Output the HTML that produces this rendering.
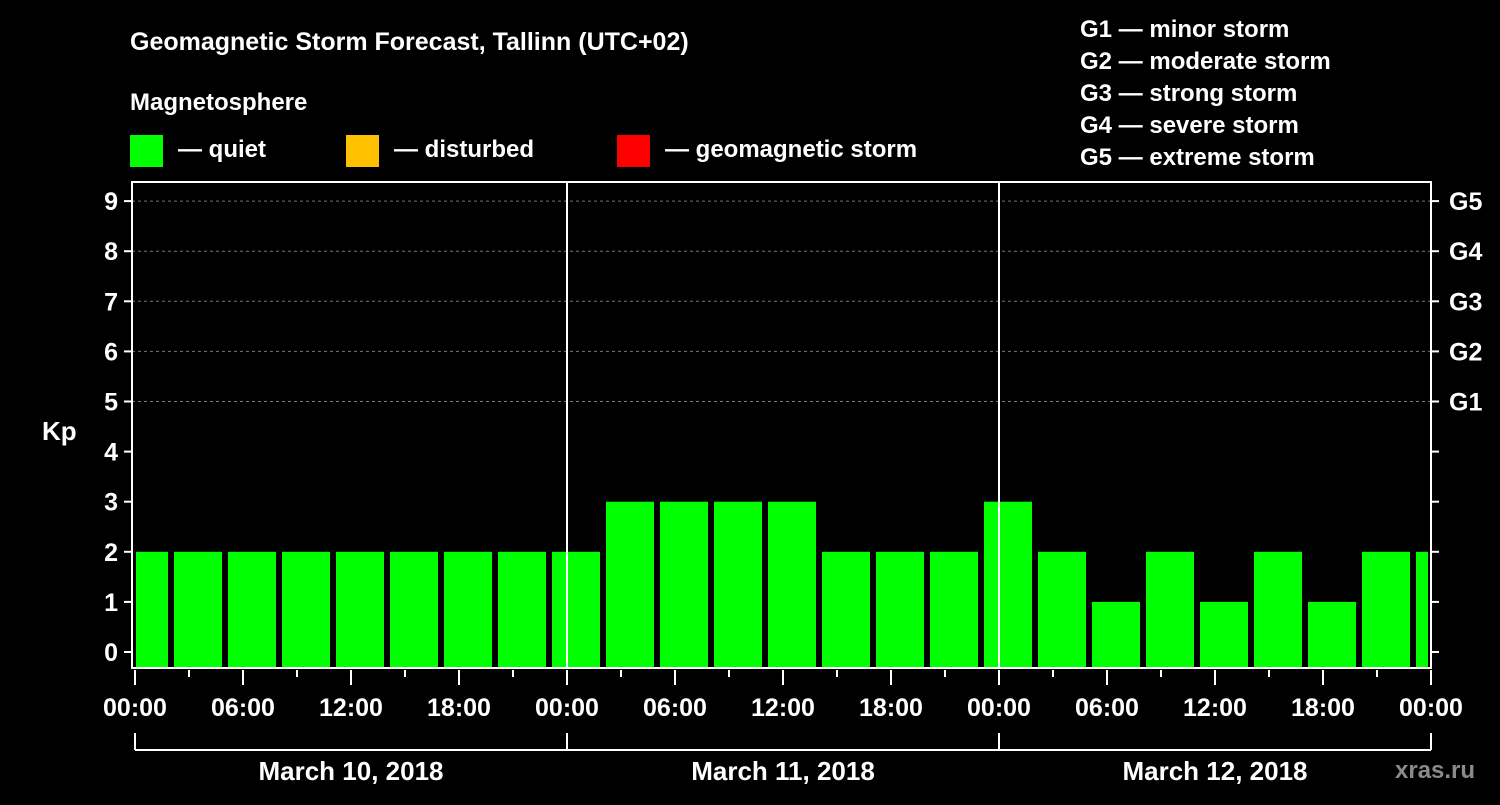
<!DOCTYPE html>
<html><head><meta charset="utf-8"><style>
body{margin:0;background:#000;width:1500px;height:800px;overflow:hidden}
svg text{font-family:"Liberation Sans",Arial,sans-serif;font-weight:bold;fill:#fff}
</style></head><body>
<svg id="c" width="1500" height="800" xmlns="http://www.w3.org/2000/svg">
<text x="130" y="50" font-size="25">Geomagnetic Storm Forecast, Tallinn (UTC+02)</text>
<text x="130" y="110" font-size="24">Magnetosphere</text>
<g><rect x="130" y="135" width="33" height="32" fill="#00ff00"/><text x="178" y="157" font-size="24">— quiet</text></g>
<g><rect x="346" y="135" width="33" height="32" fill="#ffc000"/><text x="394" y="157" font-size="24">— disturbed</text></g>
<g><rect x="617" y="135" width="33" height="32" fill="#ff0000"/><text x="665" y="157" font-size="24">— geomagnetic storm</text></g>
<g font-size="24">
<text x="1080" y="37">G1 — minor storm</text><text x="1080" y="69">G2 — moderate storm</text><text x="1080" y="101">G3 — strong storm</text><text x="1080" y="133">G4 — severe storm</text><text x="1080" y="165">G5 — extreme storm</text></g>
<text x="42" y="440" font-size="26">Kp</text>
<text x="1395" y="778" font-size="24" fill="#888" style="fill:#8a8a8a">xras.ru</text>
<g id="g"></g>
</svg>
<script>
const values=[2,2,2,2,2,2,2,2,2,3,3,3,3,2,2,2,3,2,1,2,1,2,1,2,2];
const yTicks=[0,1,2,3,4,5,6,7,8,9];
const gLabels=["G1","G2","G3","G4","G5"];
const xLabels=["00:00","06:00","12:00","18:00","00:00","06:00","12:00","18:00","00:00","06:00","12:00","18:00","00:00"];
const dates=["March 10, 2018","March 11, 2018","March 12, 2018"];
const L=132,R=1431,T=182,B=668,X0=135,HPX=18,Y0=652,KP=50.1;
const x=h=>X0+h*HPX, y=v=>Y0-v*KP;
const g=document.getElementById('g'),NS="http://www.w3.org/2000/svg";
function el(t,a,n){const e=document.createElementNS(NS,t);for(const k in a)e.setAttribute(k,a[k]);g.appendChild(e);return e;}
yTicks.forEach(v=>{
 if(v>=5){const ln=el('line',{x1:L,x2:R,y1:y(v),y2:y(v),stroke:'#777','stroke-dasharray':'3,3','stroke-width':1},'grid-line');}
 el('line',{x1:L-8,x2:L,y1:y(v),y2:y(v),stroke:'#fff','stroke-width':2},'y-tick');
 el('line',{x1:R,x2:R+8,y1:y(v),y2:y(v),stroke:'#fff','stroke-width':2},'y-tick-right');
 const t=el('text',{x:L-14,y:y(v)+9,'font-size':25,'text-anchor':'end'},'y-tick-label');t.textContent=v;
 if(v>=5){const t2=el('text',{x:R+18,y:y(v)+9,'font-size':25},'g-level-label');t2.textContent=gLabels[v-5];}
});
values.forEach((v,i)=>{
 const s=-1+3*i;let x1=x(s)+3,x2=x(s+3)-3;
 x1=Math.max(x1,L+4);x2=Math.min(x2,R-3);
 const b=el('rect',{x:x1,y:y(v),width:x2-x1,height:B-1-y(v),fill:'#00ff00'},'bar-kp');
});
el('rect',{x:L,y:T,width:R-L,height:B-T,fill:'none',stroke:'#fff','stroke-width':2},'plot-border');
[1,2].forEach(d=>el('line',{x1:x(24*d),x2:x(24*d),y1:T,y2:B,stroke:'#fff','stroke-width':2},'day-divider'));
for(let h=0;h<=72;h+=3){const maj=h%6==0;el('line',{x1:x(h),x2:x(h),y1:B+2,y2:B+(maj?17:9),stroke:'#fff','stroke-width':2},'x-tick');}
xLabels.forEach((s,i)=>{const t=el('text',{x:x(i*6),y:716,'font-size':25,'text-anchor':'middle'},'x-tick-label');t.textContent=s;});
el('line',{x1:x(0),x2:x(72),y1:750,y2:750,stroke:'#fff','stroke-width':2},'date-bracket');
[0,24,48,72].forEach(h=>el('line',{x1:x(h),x2:x(h),y1:733,y2:750,stroke:'#fff','stroke-width':2},'date-bracket-tick'));
dates.forEach((s,i)=>{const t=el('text',{x:x(24*i+12),y:780,'font-size':26,'text-anchor':'middle'},'date-label');t.textContent=s;});
</script>
</body></html>
